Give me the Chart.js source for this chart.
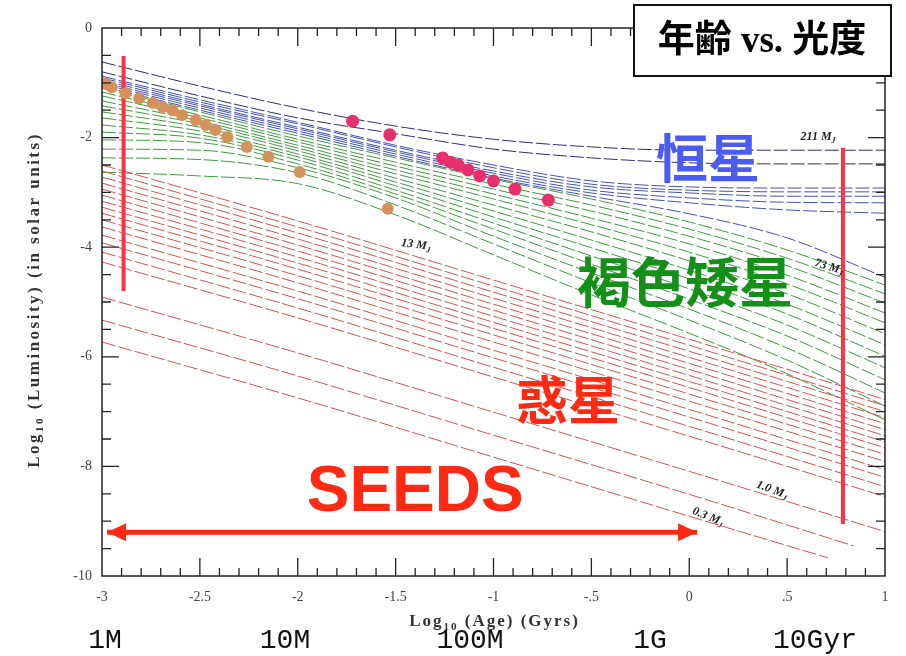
<!DOCTYPE html>
<html>
<head>
<meta charset="utf-8">
<title>年齢 vs. 光度</title>
<script src="https://cdn.jsdelivr.net/npm/chart.js@4.4.1/dist/chart.umd.min.js"></script>
<style>
  html, body { margin: 0; padding: 0; background: #fff; }
  #wrap { width: 906px; height: 656px; }
</style>
</head>
<body>
<div id="wrap"><canvas id="ageChart" width="906" height="656"></canvas></div>
<script>
// log10(age / Gyr) at which the tracks are read
const trackAges = [-3, -2.5, -2, -1.5, -1, -0.5, 0, 0.5, 1];

// stars (blue) - log10 L
const starTracks = [
  [-0.62, -1.06, -1.46, -1.79, -2.03, -2.17, -2.23, -2.23, -2.23],
  [-0.80, -1.24, -1.64, -1.93, -2.21, -2.37, -2.46, -2.48, -2.48],
  [-0.88, -1.31, -1.72, -2.14, -2.50, -2.79, -2.90, -2.92, -2.92],
  [-0.91, -1.35, -1.75, -2.17, -2.55, -2.85, -2.96, -2.99, -2.99],
  [-0.95, -1.39, -1.81, -2.23, -2.61, -2.90, -3.01, -3.07, -3.07],
  [-0.99, -1.42, -1.84, -2.26, -2.65, -2.96, -3.10, -3.18, -3.19],
  [-1.02, -1.46, -1.88, -2.30, -2.70, -3.01, -3.19, -3.32, -3.38],
  [-1.06, -1.50, -1.92, -2.34, -2.74, -3.07, -3.39, -3.83, -4.55]
];

// brown dwarfs (green)
const dwarfTracks = [
  [-1.09, -1.53, -1.97, -2.37, -2.76, -3.12, -3.54, -4.05, -4.69],
  [-1.17, -1.59, -2.03, -2.45, -2.85, -3.23, -3.67, -4.20, -4.85],
  [-1.24, -1.64, -2.08, -2.52, -2.94, -3.34, -3.80, -4.34, -5.02],
  [-1.33, -1.70, -2.14, -2.59, -3.03, -3.47, -3.94, -4.51, -5.20],
  [-1.42, -1.75, -2.19, -2.66, -3.12, -3.59, -4.09, -4.67, -5.38],
  [-1.53, -1.81, -2.24, -2.74, -3.23, -3.72, -4.25, -4.85, -5.58],
  [-1.64, -1.88, -2.30, -2.81, -3.34, -3.87, -4.42, -5.04, -5.78],
  [-1.77, -1.95, -2.35, -2.88, -3.45, -4.01, -4.58, -5.22, -5.99],
  [-1.90, -2.01, -2.41, -2.96, -3.56, -4.16, -4.76, -5.42, -6.20],
  [-2.04, -2.09, -2.48, -3.03, -3.67, -4.31, -4.95, -5.62, -6.42],
  [-2.21, -2.23, -2.55, -3.10, -3.80, -4.47, -5.13, -5.84, -6.66],
  [-2.37, -2.40, -2.64, -3.23, -3.94, -4.65, -5.33, -6.06, -6.90],
  [-2.63, -2.70, -2.84, -3.41, -4.14, -4.87, -5.57, -6.31, -7.15]
];

// planets (red), read at these ages; the last point sits at planetLastAge
const planetAges = [-3, -2, -1, 0, 1];
const planetLastAge = [1, 1, 1, 1, 1, 1, 1, 1, 1, 1, 1, 1, 1, 1, 1, 1, 0.84, 0.71];
const planetTracks = [
  [-2.50, -3.52, -4.60, -5.68, -6.78],
  [-2.61, -3.63, -4.71, -5.79, -6.89],
  [-2.72, -3.74, -4.82, -5.90, -7.00],
  [-2.83, -3.85, -4.93, -6.01, -7.11],
  [-2.94, -3.96, -5.04, -6.12, -7.22],
  [-3.05, -4.07, -5.15, -6.23, -7.33],
  [-3.16, -4.18, -5.26, -6.34, -7.44],
  [-3.27, -4.29, -5.37, -6.45, -7.55],
  [-3.38, -4.40, -5.48, -6.56, -7.66],
  [-3.50, -4.52, -5.60, -6.68, -7.78],
  [-3.63, -4.65, -5.73, -6.81, -7.91],
  [-3.78, -4.80, -5.88, -6.96, -8.06],
  [-3.92, -4.94, -6.02, -7.10, -8.20],
  [-4.09, -5.11, -6.19, -7.27, -8.37],
  [-4.27, -5.29, -6.37, -7.45, -8.55],
  [-4.91, -5.93, -7.01, -8.09, -9.19],
  [-5.33, -6.35, -7.43, -8.51, -9.45],
  [-5.73, -6.75, -7.83, -8.91, -9.67]
];

// observed objects
const youngAge = [-2.98, -2.95, -2.88, -2.81, -2.74, -2.69, -2.64, -2.59, -2.52, -2.47, -2.42, -2.36, -2.26, -2.15, -1.99, -1.54];
const youngLum = [-1.02, -1.08, -1.19, -1.28, -1.37, -1.44, -1.50, -1.59, -1.68, -1.77, -1.86, -1.99, -2.17, -2.35, -2.63, -3.30];
const pinkAge = [-1.72, -1.53, -1.26, -1.22, -1.18, -1.13, -1.07, -1.00, -0.89, -0.72];
const pinkLum = [-1.70, -1.95, -2.37, -2.45, -2.50, -2.59, -2.70, -2.79, -2.94, -3.14];

// SEEDS range markers
const leftBarAge = -2.89, leftBarLum = [-0.51, -4.80];
const rightBarAge = 0.785, rightBarLum = [-2.19, -9.05];
const seedsAges = [-2.974, 0.04], seedsLum = -9.2;

const xTicks = [-3, -2.5, -2, -1.5, -1, -0.5, 0, 0.5, 1];
const yTicks = [0, -2, -4, -6, -8, -10];
const ageNames = ["1M", "10M", "100M", "1G", "10Gyr"];

const RED = "#ff2a14";

function pts(ages, lums) {
  return lums.map((v, i) => ({ x: ages[i], y: v }));
}

function trackSet(data, color) {
  return {
    type: "line",
    data: data,
    borderColor: color,
    borderWidth: 1,
    borderDash: [14, 3],
    pointRadius: 0,
    fill: false,
    cubicInterpolationMode: "monotone",
    order: 10
  };
}

const datasets = [];
planetTracks.forEach((t, k) => {
  const ages = planetAges.slice();
  ages[ages.length - 1] = planetLastAge[k];
  datasets.push(trackSet(pts(ages, t), "#d9534f"));
});
dwarfTracks.forEach(t => datasets.push(trackSet(pts(trackAges, t), "#3f9b3f")));
starTracks.forEach((t, k) => datasets.push(trackSet(pts(trackAges, t), k < 2 ? "#2c2f6e" : "#4452b4")));

datasets.push({
  type: "line",
  data: [{ x: leftBarAge, y: leftBarLum[0] }, { x: leftBarAge, y: leftBarLum[1] }],
  borderColor: "#ff3142", borderWidth: 4, pointRadius: 0, order: 5
});
datasets.push({
  type: "line",
  data: [{ x: rightBarAge, y: rightBarLum[0] }, { x: rightBarAge, y: rightBarLum[1] }],
  borderColor: "#ff3142", borderWidth: 4, pointRadius: 0, order: 5
});
datasets.push({
  type: "line",
  data: [{ x: seedsAges[0], y: seedsLum }, { x: seedsAges[1], y: seedsLum }],
  borderColor: RED, borderWidth: 5, pointRadius: 0, order: 5
});
datasets.push({
  type: "scatter",
  data: pts(youngAge, youngLum),
  backgroundColor: "#d4925c", borderWidth: 0, pointRadius: 6, order: 1
});
datasets.push({
  type: "scatter",
  data: pts(pinkAge, pinkLum),
  backgroundColor: "#e6306e", borderWidth: 0, pointRadius: 6.5, order: 1
});

function fmtAge(v) {
  return String(v).replace(/^(-?)0\./, "$1.");
}

// text with a subscript part, centred on the current origin
function richText(ctx, parts, size, family, weight) {
  let w = 0;
  parts.forEach(p => {
    ctx.font = `${weight} ${p.sub ? Math.round(size * 0.65) : size}px ${family}`;
    w += ctx.measureText(p.t).width;
  });
  let cx = -w / 2;
  parts.forEach(p => {
    ctx.font = `${weight} ${p.sub ? Math.round(size * 0.65) : size}px ${family}`;
    ctx.fillText(p.t, cx, p.sub ? size * 0.3 : 0);
    cx += ctx.measureText(p.t).width;
  });
}

const frameTicks = {
  id: "frameTicks",
  afterDatasetsDraw(chart) {
    const ctx = chart.ctx, a = chart.chartArea;
    const xs = chart.scales.x, ys = chart.scales.y;
    ctx.save();
    ctx.strokeStyle = "#222";
    ctx.lineWidth = 1.5;
    ctx.strokeRect(a.left, a.top, a.right - a.left, a.bottom - a.top);
    ctx.lineWidth = 1.3;
    ctx.beginPath();
    for (let i = -29; i <= 9; i++) {
      const px = xs.getPixelForValue(i / 10);
      const len = i % 5 === 0 ? 18 : 8;
      ctx.moveTo(px, a.bottom); ctx.lineTo(px, a.bottom - len);
      ctx.moveTo(px, a.top); ctx.lineTo(px, a.top + len);
    }
    for (let j = 1; j < 20; j++) {
      const py = ys.getPixelForValue(-j / 2);
      const len = j % 4 === 0 ? 17 : 9;
      ctx.moveTo(a.left, py); ctx.lineTo(a.left + len, py);
      ctx.moveTo(a.right, py); ctx.lineTo(a.right - len, py);
    }
    ctx.stroke();

    // arrow heads of the SEEDS range
    const py = ys.getPixelForValue(seedsLum);
    const x0 = xs.getPixelForValue(seedsAges[0]);
    const x1 = xs.getPixelForValue(seedsAges[1]);
    ctx.fillStyle = RED;
    ctx.beginPath();
    ctx.moveTo(x0, py); ctx.lineTo(x0 + 19, py - 9); ctx.lineTo(x0 + 19, py + 9); ctx.closePath();
    ctx.moveTo(x1, py); ctx.lineTo(x1 - 19, py - 9); ctx.lineTo(x1 - 19, py + 9); ctx.closePath();
    ctx.fill();
    ctx.restore();
  }
};

const massLabels = [
  { text: "211 M", x: 0.658, y: -1.99, rot: 0 },
  { text: "13 M", x: -1.396, y: -3.96, rot: 8 },
  { text: "73 M", x: 0.714, y: -4.36, rot: 16 },
  { text: "1.0 M", x: 0.423, y: -8.43, rot: 20 },
  { text: "0.3 M", x: 0.096, y: -8.92, rot: 22 }
];

const regionLabels = [
  { text: "恒星", color: "#4a5cf2", x: 0.096, y: -2.37, size: 52 },
  { text: "褐色矮星", color: "#14901a", x: -0.022, y: -4.64, size: 54 },
  { text: "惑星", color: RED, x: -0.619, y: -6.79, size: 52 }
];

const plotText = {
  id: "plotText",
  afterDraw(chart) {
    const ctx = chart.ctx, a = chart.chartArea;
    const xs = chart.scales.x, ys = chart.scales.y;
    ctx.save();
    ctx.textAlign = "left";
    ctx.textBaseline = "middle";
    ctx.fillStyle = "#222";

    massLabels.forEach(l => {
      ctx.save();
      ctx.translate(xs.getPixelForValue(l.x), ys.getPixelForValue(l.y));
      ctx.rotate(l.rot * Math.PI / 180);
      richText(ctx, [{ t: l.text }, { t: "J", sub: true }], 12, "'Liberation Serif'", "italic bold");
      ctx.restore();
    });

    ctx.textAlign = "center";
    regionLabels.forEach(l => {
      ctx.fillStyle = l.color;
      ctx.font = `bold ${l.size}px 'Noto Sans CJK JP'`;
      ctx.fillText(l.text, xs.getPixelForValue(l.x), ys.getPixelForValue(l.y));
    });

    ctx.fillStyle = RED;
    ctx.font = "bold 64px 'Liberation Sans'";
    ctx.fillText("SEEDS", xs.getPixelForValue(-1.40), ys.getPixelForValue(-8.50));

    // axis titles
    ctx.fillStyle = "#333";
    ctx.textAlign = "left";
    ctx.letterSpacing = "2px";
    ctx.save();
    ctx.translate((a.left + a.right) / 2 + 1, 622);
    richText(ctx, [{ t: "Log" }, { t: "10", sub: true }, { t: " (Age) (Gyrs)" }], 17, "'Liberation Serif'", "bold");
    ctx.restore();
    ctx.letterSpacing = "2.5px";
    ctx.save();
    ctx.translate(35, 300);
    ctx.rotate(-Math.PI / 2);
    richText(ctx, [{ t: "Log" }, { t: "10", sub: true }, { t: " (Luminosity) (in solar units)" }], 17, "'Liberation Serif'", "bold");
    ctx.restore();
    ctx.letterSpacing = "0px";

    // age names under the axis
    ctx.fillStyle = "#111";
    ctx.textAlign = "center";
    ctx.font = "28px 'Liberation Mono'";
    const namePos = [105, 285, 470, 650, 815];
    ageNames.forEach((n, i) => ctx.fillText(n, namePos[i], 641));

    // title box
    ctx.fillStyle = "#fff";
    ctx.fillRect(634, 5, 257, 71);
    ctx.strokeStyle = "#111";
    ctx.lineWidth = 2;
    ctx.strokeRect(634, 5, 257, 71);
    ctx.fillStyle = "#000";
    ctx.font = "bold 37px 'Liberation Serif', 'Noto Sans CJK JP'";
    ctx.fillText("年齢 vs. 光度", 762, 42);
    ctx.restore();
  }
};

new Chart(document.getElementById("ageChart"), {
  type: "scatter",
  data: { datasets: datasets },
  options: {
    responsive: false,
    animation: false,
    devicePixelRatio: 1,
    events: [],
    layout: { padding: { top: 28, right: 21, left: 0, bottom: 0 } },
    plugins: { legend: { display: false }, tooltip: { enabled: false } },
    scales: {
      x: {
        type: "linear", min: -3, max: 1,
        afterFit(s) { s.height = 80; },
        afterBuildTicks(s) { s.ticks = xTicks.map(v => ({ value: v })); },
        grid: { display: false, drawTicks: false },
        border: { display: false },
        ticks: {
          padding: 13, color: "#444",
          font: { family: "'Liberation Serif'", size: 14 },
          callback: v => fmtAge(v)
        }
      },
      y: {
        type: "linear", min: -10, max: 0,
        afterFit(s) { s.width = 102; },
        afterBuildTicks(s) { s.ticks = yTicks.map(v => ({ value: v })); },
        grid: { display: false, drawTicks: false },
        border: { display: false },
        ticks: {
          padding: 10, color: "#444",
          font: { family: "'Liberation Serif'", size: 14 }
        }
      }
    }
  },
  plugins: [frameTicks, plotText]
});
</script>
</body>
</html>
